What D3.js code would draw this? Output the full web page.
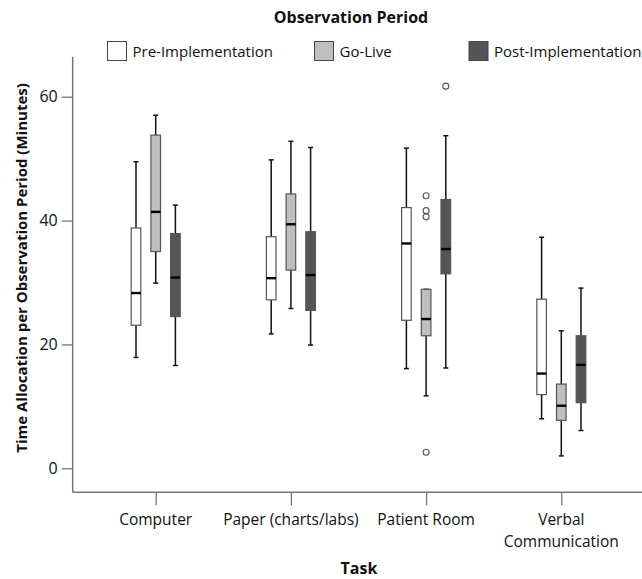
<!DOCTYPE html>
<html>
<head>
<meta charset="utf-8">
<script src="https://cdn.jsdelivr.net/npm/d3@7"></script>
<style>
  body { margin: 0; background: #fff; }
  svg { display: block; }
  text { font-family: "Open Sans", "Noto Sans", sans-serif; fill: #111; }
</style>
</head>
<body>
<svg id="chart" width="642" height="579"></svg>
<script>
// ---- data ----
const categories = ["Computer", "Paper (charts/labs)", "Patient Room", "Verbal Communication"];
const series = ["Pre-Implementation", "Go-Live", "Post-Implementation"];
const seriesColors = ["#ffffff", "#bfbfbf", "#555555"];
const yTicks = [0, 20, 40, 60];
// [whiskerLow, Q1, median, Q3, whiskerHigh] per category
const preStats = [
  [17.9, 23.1, 28.3, 38.8, 49.5],
  [21.7, 27.2, 30.7, 37.4, 49.8],
  [16.1, 23.9, 36.3, 42.1, 51.7],
  [8.0, 11.9, 15.3, 27.3, 37.3]
];
const goLiveStats = [
  [29.9, 35.0, 41.4, 53.8, 57.0],
  [25.8, 32.0, 39.4, 44.3, 52.8],
  [11.7, 21.4, 24.1, 28.9, 28.9],
  [2.0, 7.75, 10.1, 13.6, 22.2]
];
const postStats = [
  [16.6, 24.5, 30.8, 37.9, 42.5],
  [19.9, 25.5, 31.2, 38.2, 51.8],
  [16.2, 31.4, 35.4, 43.4, 53.7],
  [6.1, 10.6, 16.7, 21.4, 29.1]
];
const preOutliers = [[], [], [], []];
const goLiveOutliers = [[], [], [44.0, 41.6, 40.6, 2.6], []];
const postOutliers = [[], [], [61.7], []];

const allStats = [preStats, goLiveStats, postStats];
const allOutliers = [preOutliers, goLiveOutliers, postOutliers];

// ---- layout ----
const svg = d3.select("#chart");
const axisX = 72.7, axisBottomY = 492.3, axisTopY = 56.7;
const y = d3.scaleLinear().domain([0, 60]).range([468.3, 96.7]);
const x = d3.scalePoint().domain(categories).range([155.7, 561.3]);
const offset = d3.scalePoint().domain(series).range([-19.7, 19.7]);
const boxW = 9.6;

// axes
const yAxis = d3.axisLeft(y).tickValues(yTicks).tickSize(11).tickPadding(4);
const gy = svg.append("g").attr("transform", `translate(${axisX},0)`).call(yAxis);
gy.select(".domain").remove();
gy.selectAll(".tick line").attr("stroke", "#777").attr("stroke-width", 1.3);
gy.selectAll(".tick text").attr("font-size", 16).attr("fill", "#222")
  .style("font-family", '"Open Sans", sans-serif');

const xAxis = d3.axisBottom(x).tickSize(13).tickFormat("");
const gx = svg.append("g").attr("transform", `translate(0,${axisBottomY})`).call(xAxis);
gx.select(".domain").remove();
gx.selectAll(".tick line").attr("stroke", "#777").attr("stroke-width", 1.3);

svg.append("line").attr("x1", axisX).attr("x2", axisX).attr("y1", axisTopY).attr("y2", axisBottomY)
  .attr("stroke", "#777").attr("stroke-width", 1.5);
svg.append("line").attr("x1", axisX).attr("x2", 642).attr("y1", axisBottomY).attr("y2", axisBottomY)
  .attr("stroke", "#777").attr("stroke-width", 1.5);

// category labels
categories.forEach(c => {
  const words = c === "Verbal Communication" ? ["Verbal", "Communication"] : [c];
  const t = svg.append("text").attr("text-anchor", "middle").attr("font-size", 15.5);
  words.forEach((w, i) => {
    t.append("tspan").attr("x", x(c)).attr("y", 525 + i * 22).text(w);
  });
});

// boxes
series.forEach((s, si) => {
  const g = svg.append("g");
  categories.forEach((c, ci) => {
    const [lo, q1, med, q3, hi] = allStats[si][ci];
    const cx = x(c) + offset(s);
    g.append("line").attr("x1", cx).attr("x2", cx).attr("y1", y(hi)).attr("y2", y(q3))
      .attr("stroke", "#111").attr("stroke-width", 1.5);
    g.append("line").attr("x1", cx).attr("x2", cx).attr("y1", y(q1)).attr("y2", y(lo))
      .attr("stroke", "#111").attr("stroke-width", 1.5);
    [lo, hi].forEach(v => {
      g.append("line").attr("x1", cx - 2.5).attr("x2", cx + 2.5).attr("y1", y(v)).attr("y2", y(v))
        .attr("stroke", "#111").attr("stroke-width", 1.5);
    });
    g.append("rect").attr("x", cx - boxW / 2).attr("width", boxW)
      .attr("y", y(q3)).attr("height", y(q1) - y(q3))
      .attr("fill", seriesColors[si]).attr("stroke", "#555").attr("stroke-width", 1.2);
    g.append("line").attr("x1", cx - boxW / 2).attr("x2", cx + boxW / 2)
      .attr("y1", y(med)).attr("y2", y(med)).attr("stroke", "#000").attr("stroke-width", 2.4);
    allOutliers[si][ci].forEach(v => {
      g.append("circle").attr("cx", cx).attr("cy", y(v)).attr("r", 3)
        .attr("fill", "#fff").attr("stroke", "#555").attr("stroke-width", 1.1);
    });
  });
});

// legend
svg.append("text").attr("x", 351).attr("y", 23).attr("text-anchor", "middle")
  .attr("font-size", 16).attr("font-weight", "bold").text("Observation Period");
const legendX = [107.5, 314.5, 469];
series.forEach((s, i) => {
  svg.append("rect").attr("x", legendX[i]).attr("y", 41.5).attr("width", 19).attr("height", 19)
    .attr("fill", seriesColors[i]).attr("stroke", "#444").attr("stroke-width", 1);
  svg.append("text").attr("x", legendX[i] + 25).attr("y", 57).attr("font-size", 15).text(s);
});

// axis titles
svg.append("text").attr("x", 359).attr("y", 574).attr("text-anchor", "middle")
  .attr("font-size", 16).attr("font-weight", "bold").text("Task");
svg.append("text").attr("transform", "translate(27,268) rotate(-90)").attr("text-anchor", "middle")
  .attr("font-size", 15).attr("font-weight", "bold")
  .text("Time Allocation per Observation Period (Minutes)");
</script>
</body>
</html>
